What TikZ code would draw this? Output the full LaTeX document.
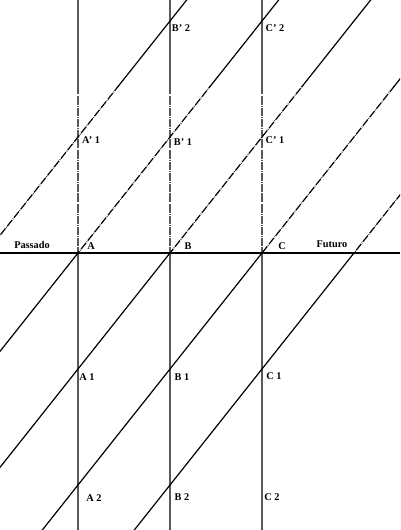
\documentclass[tikz,border=0pt]{standalone}
\usepackage{fontspec}
\setmainfont{Liberation Serif}
\begin{document}
\begin{tikzpicture}[x=1pt,y=-1pt,
  vline/.style={line width=1.2pt, draw=black!65},
  diag/.style={line width=1.2pt, draw=black},
  axisline/.style={line width=1.3pt, draw=black},
  ddot/.style={dash pattern=on 8pt off 1.1pt on 0.6pt off 1.1pt},
  lbl/.style={font=\bfseries\fontsize{10.3}{12}\selectfont, inner sep=0pt, anchor=center}]
\useasboundingbox (0,0) rectangle (400,530);
\fill[white] (0,0) rectangle (400,530);
\clip (0,0) rectangle (400,530);
\newcommand\drawfamily{%
  \foreach \xx in {78,170,262} \draw[vline] (\xx,0) -- (\xx,530);
  \foreach \c in {137,253,369,485,601}
    \draw[diag] ({78-92*5},{\c+116*5}) -- ({78+92*5},{\c-116*5});
}
\begin{scope}
  \clip (0,0) rectangle (400,86);
  \drawfamily
\end{scope}
\begin{scope}[ddot]
  \clip (0,86) rectangle (400,253);
  \drawfamily
\end{scope}
\begin{scope}
  \clip (0,253) rectangle (400,530);
  \drawfamily
\end{scope}
\coordinate (west) at (0,253);
\coordinate (east) at (400,253);
\draw[axisline] (west) -- (east);
\node[lbl] (passado) at (32,245) {Passado};
\node[lbl] (futuro) at (332,244) {Futuro};
\node[lbl] (a) at (91,246) {A};
\node[lbl] (b) at (188,246) {B};
\node[lbl] (c) at (282,246) {C};
\node[lbl] (ap1) at (91,140) {A' 1};
\node[lbl] (bp1) at (183,142) {B' 1};
\node[lbl] (cp1) at (275,140) {C' 1};
\node[lbl] (bp2) at (181,28) {B' 2};
\node[lbl] (cp2) at (275,28) {C' 2};
\node[lbl] (a1) at (87,377) {A 1};
\node[lbl] (b1) at (182,377) {B 1};
\node[lbl] (c1) at (274,376) {C 1};
\node[lbl] (a2) at (94,498) {A 2};
\node[lbl] (b2) at (182,497) {B 2};
\node[lbl] (c2) at (272,497) {C 2};
\end{tikzpicture}
\end{document}
